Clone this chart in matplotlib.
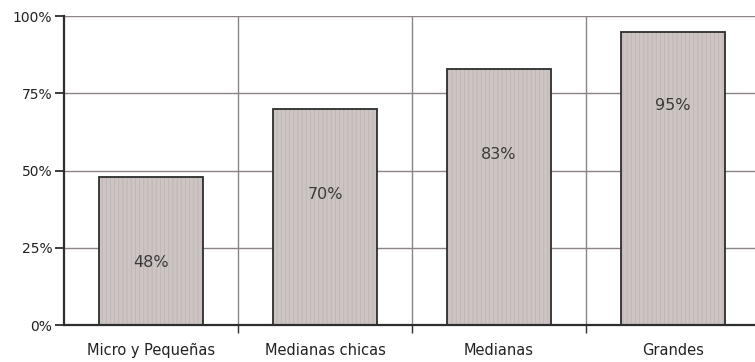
import matplotlib
matplotlib.use("Agg")
import matplotlib.pyplot as plt
from matplotlib.ticker import FuncFormatter

# share of companies per size segment
categories = ["Micro y Pequeñas", "Medianas chicas", "Medianas", "Grandes"]
shares = [48, 70, 83, 95]
y_ticks = [0, 25, 50, 75, 100]

plt.rcParams['font.family'] = ['DejaVu Sans']
plt.rcParams['hatch.linewidth'] = 0.6

fig = plt.figure(figsize=(7.55, 3.62), dpi=100)
ax = fig.add_axes([0.0848, 0.102, 0.922, 0.8536])

x = list(range(len(categories)))
grid_col = '#8c8484'
dark = '#2e2e2e'

# horizontal and category separator lines
for v in y_ticks[1:]:
    ax.axhline(v, color=grid_col, lw=1.0, zorder=1)
for b in [i + 0.5 for i in x[:-1]]:
    ax.axvline(b, color=grid_col, lw=1.0, zorder=1)

# bars: striped fill, then dark outline on top
ax.bar(x, shares, width=0.6, color='#cdc5c3', edgecolor='#bfb5b3',
       hatch='||||', linewidth=0, zorder=2)
ax.bar(x, shares, width=0.6, fill=False, edgecolor=dark, linewidth=1.3, zorder=3)

# value labels sit below the bar top (a bit closer on the tallest bar)
for xi, s in zip(x, shares):
    ly = s - 27.8 if s < 90 else s - 24
    ax.text(xi, ly, f"{s}%", ha='center', va='center',
            fontsize=11.5, color='#3a3a3a', zorder=4)

ax.set_xlim(-0.5, 3.5)
ax.set_ylim(0, 100)
ax.set_yticks(y_ticks)
ax.yaxis.set_major_formatter(FuncFormatter(lambda v, _: f"{v:.0f}%"))
ax.tick_params(axis='y', length=6.5, width=1.3, color=dark, labelsize=10,
               labelcolor='#222222', pad=2)

# category labels centred, boundary ticks below the axis
ax.set_xticks(x)
ax.set_xticklabels(categories)
ax.tick_params(axis='x', length=0, labelsize=10.5, labelcolor='#222222', pad=13)
ax.set_xticks([i + 0.5 for i in x], minor=True)
ax.tick_params(axis='x', which='minor', length=6, width=1.0, color=dark, direction='out')

for side in ['top', 'right']:
    ax.spines[side].set_visible(False)
ax.spines['left'].set_color(dark)
ax.spines['left'].set_linewidth(1.6)
ax.spines['bottom'].set_color(dark)
ax.spines['bottom'].set_linewidth(1.6)

fig.savefig("out.png", dpi=100)
